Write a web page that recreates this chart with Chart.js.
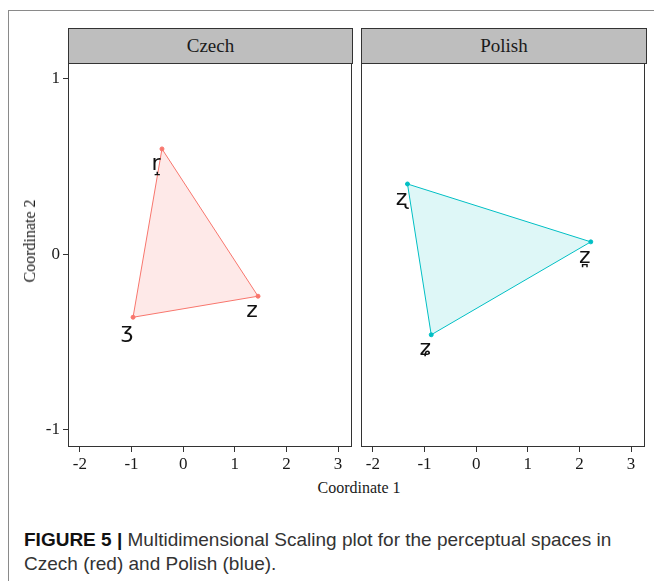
<!DOCTYPE html>
<html>
<head>
<meta charset="utf-8">
<script src="https://cdn.jsdelivr.net/npm/chart.js@4/dist/chart.umd.min.js"></script>
<style>
  html, body { margin: 0; padding: 0; background: #fff; }
  body { width: 654px; height: 581px; position: relative; overflow: hidden; }
  .frame { position: absolute; left: 8px; top: 10px; width: 660px; height: 600px;
           border-top: 1px solid #8a8a8a; border-left: 1px solid #8a8a8a; }
  .strip { position: absolute; top: 28px; height: 34px; background: #bebebe;
           border: 1px solid #333; box-sizing: content-box;
           font: 19px "Liberation Serif", "Times New Roman", serif; color: #1a1a1a;
           text-align: center; line-height: 34px; }
  canvas { position: absolute; }
  .xtitle { position: absolute; left: 0; width: 718px; top: 479px; text-align: center;
            font: 16px "Liberation Serif", "Times New Roman", serif; color: #1a1a1a; }
  .ytitle { position: absolute; left: 30px; top: 241px; transform: translate(-50%, -50%) rotate(-90deg);
            font: 16px "Liberation Serif", "Times New Roman", serif; color: #1a1a1a; white-space: nowrap; }
  .caption { position: absolute; left: 24px; top: 528px; width: 640px; white-space: nowrap;
             font: 19px "Liberation Sans", Arial, sans-serif; color: #333; line-height: 24px; }
  .caption b { color: #111; }
</style>
</head>
<body>
<div class="frame"></div>
<div class="strip" style="left:68px;width:283px;">Czech</div>
<div class="strip" style="left:361px;width:284px;">Polish</div>
<canvas id="czech" width="356" height="414" style="left:0;top:63px;"></canvas>
<canvas id="polish" width="298" height="414" style="left:356px;top:63px;"></canvas>
<div class="ytitle">Coordinate 2</div>
<div class="xtitle">Coordinate 1</div>
<div class="caption"><b>FIGURE 5 |</b> Multidimensional Scaling plot for the perceptual spaces in<br>Czech (red) and Polish (blue).</div>
<script>
// MDS coordinates of the sibilant categories in each language
const czechLabels = ['r\u031D', '\u0292', 'z'];
const czechX = [-0.41, -0.97, 1.45];
const czechY = [0.60, -0.36, -0.24];

const polishLabels = ['\u0290', 'z\u032A', '\u0291'];
const polishX = [-1.33, 2.22, -0.87];
const polishY = [0.40, 0.07, -0.46];

const xTicks = [-2, -1, 0, 1, 2, 3];
const yTicks = [-1, 0, 1];
const xRange = [-2.23, 3.27];
const yRange = [-1.1, 1.09];

// closed polygon: the first vertex is repeated at the end
function polygon(xs, ys) {
  const pts = xs.map((x, i) => ({ x: x, y: ys[i] }));
  pts.push({ x: xs[0], y: ys[0] });
  return pts;
}

// scales should not reserve extra room for half-labels at their ends
function noEdgePadding(s) {
  s.paddingTop = 0; s.paddingBottom = 0; s.paddingLeft = 0; s.paddingRight = 0;
}

// panel border plus text labels beside each vertex
const panelPlugin = {
  id: 'panel',
  afterDatasetsDraw(chart, args, opts) {
    const ctx = chart.ctx;
    const meta = chart.getDatasetMeta(0);
    ctx.save();
    ctx.fillStyle = '#111';
    ctx.font = '22px "DejaVu Sans", sans-serif';
    ctx.textAlign = 'center';
    ctx.textBaseline = 'middle';
    opts.labels.forEach((lab, i) => {
      const el = meta.data[i];
      ctx.fillText(lab, el.x - 6, el.y + 15);
    });
    const a = chart.chartArea;
    ctx.strokeStyle = '#333';
    ctx.lineWidth = 1;
    ctx.strokeRect(Math.round(a.left) + 0.5, Math.round(a.top) + 0.5,
                   Math.round(a.right - a.left) - 1, Math.round(a.bottom - a.top) - 1);
    ctx.restore();
  }
};

function makePanel(id, xs, ys, labels, line, fillCol, showY, padL, padR) {
  return new Chart(document.getElementById(id), {
    type: 'scatter',
    data: {
      datasets: [{
        data: polygon(xs, ys),
        showLine: true,
        fill: 'shape',
        borderColor: line,
        backgroundColor: fillCol,
        borderWidth: 1,
        pointRadius: [2, 2, 2, 0],
        pointBackgroundColor: line,
        pointBorderColor: line,
        tension: 0
      }]
    },
    plugins: [panelPlugin],
    options: {
      responsive: false,
      animation: false,
      devicePixelRatio: 1,
      layout: { autoPadding: false, padding: { left: padL, right: padR, top: 0, bottom: 0 } },
      plugins: {
        legend: { display: false },
        tooltip: { enabled: false },
        panel: { labels: labels }
      },
      scales: {
        x: {
          type: 'linear', min: xRange[0], max: xRange[1],
          afterBuildTicks: s => { s.ticks = xTicks.map(v => ({ value: v })); },
          afterFit: s => { s.height = 30; noEdgePadding(s); },
          grid: { drawOnChartArea: false, drawTicks: true, tickLength: 5, tickColor: '#333' },
          border: { display: false },
          ticks: { color: '#1a1a1a', padding: 2, maxRotation: 0, font: { family: '"Liberation Serif", serif', size: 17 } }
        },
        y: {
          type: 'linear', min: yRange[0], max: yRange[1], display: showY,
          afterBuildTicks: s => { s.ticks = yTicks.map(v => ({ value: v })); },
          afterFit: s => { s.width = showY ? 68 : 0; noEdgePadding(s); },
          grid: { drawOnChartArea: false, drawTicks: true, tickLength: 5, tickColor: '#333' },
          border: { display: false },
          ticks: { color: '#1a1a1a', padding: 3, font: { family: '"Liberation Serif", serif', size: 17 } }
        }
      }
    }
  });
}

makePanel('czech', czechX, czechY, czechLabels, '#F8766D', 'rgba(248,118,109,0.16)', true, 0, 4);
makePanel('polish', polishX, polishY, polishLabels, '#00BFC4', 'rgba(0,191,196,0.13)', false, 5, 9);
</script>
</body>
</html>
